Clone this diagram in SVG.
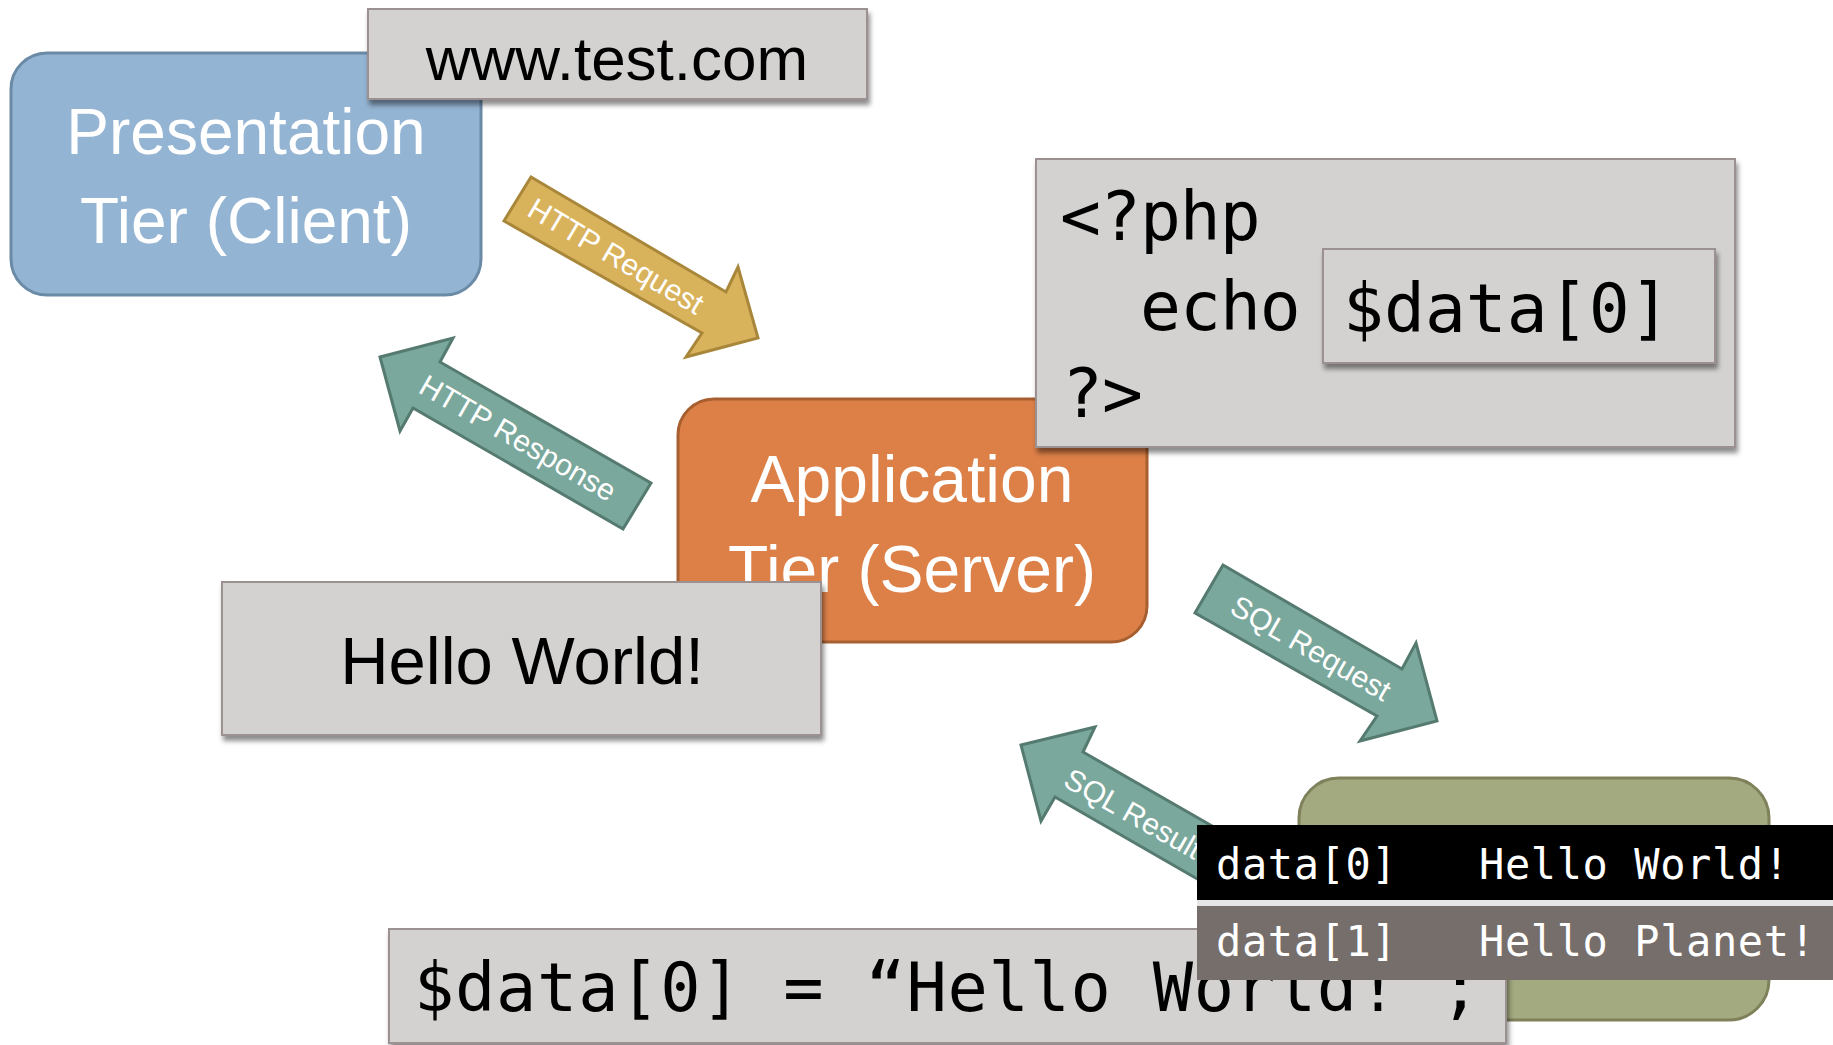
<svg xmlns="http://www.w3.org/2000/svg" width="1833" height="1045" viewBox="0 0 1833 1045">
<style>
.tier{stroke-width:3}
.tiertxt{font-family:"Liberation Sans",Arial,sans-serif;fill:#ffffff;text-anchor:middle}
.gbox{fill:#d3d2d0;stroke:#9b9190;stroke-width:2;filter:url(#sh)}
.gtxt{font-family:"Liberation Sans",Arial,sans-serif;fill:#000000;text-anchor:middle}
.code{font-family:"DejaVu Sans Mono","Liberation Mono",monospace;fill:#000000}
.tbl{font-family:"DejaVu Sans Mono","Liberation Mono",monospace;fill:#ffffff;font-size:42px;letter-spacing:0.6px}
.arr{stroke-width:3;stroke-linejoin:miter}
.gold{fill:#d9b25c;stroke:#a8873a}
.teal{fill:#7ba89c;stroke:#557a70}
.lbl{font-family:"Liberation Sans",Arial,sans-serif;fill:#ffffff;font-size:30px;dominant-baseline:central}
</style>
<defs>
<filter id="sh" x="-5%" y="-10%" width="112%" height="130%">
<feDropShadow dx="2" dy="5" stdDeviation="2.5" flood-color="#000000" flood-opacity="0.45"/>
</filter>
</defs>
<rect width="1833" height="1045" fill="#ffffff"/>

<g id="presentation">
<rect class="tier" x="11" y="53" width="470" height="242" rx="36" ry="36" fill="#94b4d3" stroke="#6a8aa6"/>
<text class="tiertxt" x="246" y="154" font-size="64">Presentation</text>
<text class="tiertxt" x="246" y="243" font-size="64">Tier (Client)</text>
</g>

<g id="url">
<rect class="gbox" x="368" y="9" width="499" height="90"/>
<text class="gtxt" x="617" y="80" font-size="62">www.test.com</text>
</g>

<g id="application">
<rect class="tier" x="678" y="399" width="469" height="243" rx="36" ry="36" fill="#dd8048" stroke="#a85f30"/>
<text class="tiertxt" x="912" y="502" font-size="66">Application</text>
<text class="tiertxt" x="912" y="592" font-size="66">Tier (Server)</text>
</g>

<g id="php">
<rect class="gbox" x="1036" y="159" width="699" height="288"/>
<text class="code" x="1060" y="240" font-size="68" letter-spacing="-1">&lt;?php</text>
<text class="code" x="1140" y="330" font-size="68" letter-spacing="-1">echo</text>
<text class="code" x="1062" y="417" font-size="68" letter-spacing="-1">?&gt;</text>
<g id="echo-var">
<rect class="gbox" x="1323" y="249" width="392" height="114"/>
<text class="code" x="1343" y="332" font-size="68" letter-spacing="0">$data[0]</text>
</g>
</g>

<g id="hello">
<rect class="gbox" x="222" y="582" width="599" height="153"/>
<text class="gtxt" x="522" y="684" font-size="67">Hello World!</text>
</g>

<g id="database">
<rect class="tier" x="1299" y="778" width="470" height="242" rx="40" ry="40" fill="#a3aa80" stroke="#7e8159"/>
</g>

<g id="assign">
<rect class="gbox" x="389" y="929" width="1117" height="114"/>
<text class="code" x="414" y="1011" font-size="67" letter-spacing="0.7">$data[0] = “Hello World!”;</text>
</g>

<g id="connectors">
<g id="http-request">
<polygon class="arr gold" points="531,177 726,292 738,267 758,338 686,357 702,333 504,221"/>
<text class="lbl" x="616" y="256" text-anchor="middle" transform="rotate(30.5 616 256)">HTTP Request</text>
</g>
<g id="http-response">
<polygon class="arr teal" points="380,357 453,338 440,362 651,483 623,529 413,408 400,431"/>
<text class="lbl" x="518" y="438" text-anchor="middle" transform="rotate(30 518 438)">HTTP Response</text>
</g>
<g id="sql-request">
<polygon class="arr teal" points="1223,565 1402,669 1416,643 1437,721 1360,741 1377,716 1195,613"/>
<text class="lbl" x="1311" y="648" text-anchor="middle" transform="rotate(30 1311 648)">SQL Request</text>
</g>
<g id="sql-result">
<polygon class="arr teal" points="1021,745 1095,727 1083,752 1240,842 1213,888 1055,797 1041,821"/>
<text class="lbl" x="1067" y="776" text-anchor="start" transform="rotate(29.5 1067 776)">SQL Result</text>
</g>
</g>

<g id="result-table">
<rect x="1197" y="825" width="636" height="75" fill="#000000"/>
<rect x="1197" y="900" width="636" height="6" fill="#e6e6e6"/>
<rect x="1197" y="906" width="636" height="74" fill="#766e6b"/>
<text class="tbl" x="1216" y="879">data[0]</text>
<text class="tbl" x="1479" y="879">Hello World!</text>
<text class="tbl" x="1216" y="956">data[1]</text>
<text class="tbl" x="1479" y="956">Hello Planet!</text>
</g>
</svg>
